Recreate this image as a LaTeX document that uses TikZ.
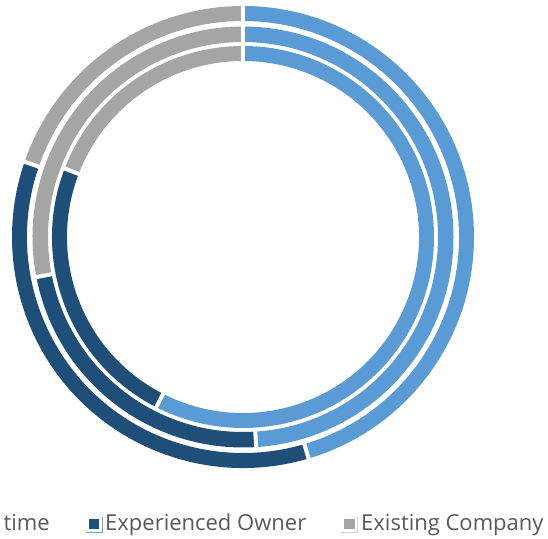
\documentclass[tikz,border=0pt]{standalone}
\usepackage{fontspec}
\setmainfont{Open Sans}
\usepackage{tikz}

\definecolor{firstblue}{HTML}{5B9BD5}
\definecolor{ownerblue}{HTML}{1F4E79}
\definecolor{companygray}{HTML}{A5A5A5}
\definecolor{legendgray}{HTML}{595959}

\tikzset{
  gapline/.style={draw=white,line width=4pt},
  legendlabel/.style={text=legendgray,font=\fontsize{22}{26}\selectfont,inner sep=0pt},
  legendkey/.style={inner sep=0pt,minimum size=10.5pt,anchor=south west},
  keyedge/.style={line width=0.8pt}
}

\begin{document}
\begin{tikzpicture}
        \useasboundingbox (-243pt,-301pt) rectangle (305pt,237pt);
        \coordinate (O) at (0,0);
        % outer ring
        \fill[firstblue] (90:231pt) arc[start angle=90,end angle=-73.5,radius=231pt]
          -- (-73.5:216pt) arc[start angle=-73.5,end angle=90,radius=216pt] -- cycle;
        \fill[ownerblue] (-73.5:231pt) arc[start angle=-73.5,end angle=-199,radius=231pt]
          -- (-199:216pt) arc[start angle=-199,end angle=-73.5,radius=216pt] -- cycle;
        \fill[companygray] (-199:231pt) arc[start angle=-199,end angle=-270,radius=231pt]
          -- (-270:216pt) arc[start angle=-270,end angle=-199,radius=216pt] -- cycle;
        % middle ring
        \fill[firstblue] (90:210.5pt) arc[start angle=90,end angle=-86.4,radius=210.5pt]
          -- (-86.4:195pt) arc[start angle=-86.4,end angle=90,radius=195pt] -- cycle;
        \fill[ownerblue] (-86.4:210.5pt) arc[start angle=-86.4,end angle=-169,radius=210.5pt]
          -- (-169:195pt) arc[start angle=-169,end angle=-86.4,radius=195pt] -- cycle;
        \fill[companygray] (-169:210.5pt) arc[start angle=-169,end angle=-270,radius=210.5pt]
          -- (-270:195pt) arc[start angle=-270,end angle=-169,radius=195pt] -- cycle;
        % inner ring
        \fill[firstblue] (90:191pt) arc[start angle=90,end angle=-117,radius=191pt]
          -- (-117:176pt) arc[start angle=-117,end angle=90,radius=176pt] -- cycle;
        \fill[ownerblue] (-117:191pt) arc[start angle=-117,end angle=-201,radius=191pt]
          -- (-201:176pt) arc[start angle=-201,end angle=-117,radius=176pt] -- cycle;
        \fill[companygray] (-201:191pt) arc[start angle=-201,end angle=-270,radius=191pt]
          -- (-270:176pt) arc[start angle=-270,end angle=-201,radius=176pt] -- cycle;
        % white gaps between the parts
        \draw[gapline] (90:212pt) -- (90:233pt);
        \draw[gapline] (90:193pt) -- (90:212pt);
        \draw[gapline] (90:174pt) -- (90:193pt);
        \draw[gapline] (-73.5:214pt) -- (-73.5:233pt);
        \draw[gapline] (-199:214pt) -- (-199:233pt);
        \draw[gapline] (-86.4:193pt) -- (-86.4:212pt);
        \draw[gapline] (-169:193pt) -- (-169:212pt);
        \draw[gapline] (-117:174pt) -- (-117:193pt);
        \draw[gapline] (-201:174pt) -- (-201:193pt);
        % legend
        \node[legendlabel,anchor=base east] (firstlabel) at (-193pt,-293pt) {First time};
        \node[legendkey,fill=firstblue] (firstkey) at ([xshift=-18.5pt,yshift=0.7pt]firstlabel.base west) {};
        \node[legendkey,fill=ownerblue] (ownerkey) at (-154.3pt,-292.3pt) {};
        \draw[keyedge,ownerblue!55] ([xshift=-3pt,yshift=-3.2pt]ownerkey.south west)
          -| ([xshift=2.4pt,yshift=1.5pt]ownerkey.north east);
        \node[legendlabel,anchor=base west] (ownerlabel) at (-138pt,-293pt) {Experienced Owner};
        \node[legendkey,fill=companygray] (companykey) at (101pt,-292.3pt) {};
        \draw[keyedge,companygray!55] ([xshift=-3pt,yshift=-3.2pt]companykey.south west)
          -| ([xshift=2.2pt,yshift=1.5pt]companykey.north east);
        \node[legendlabel,anchor=base west] (companylabel) at (118pt,-293pt) {Existing Company};
      \end{tikzpicture}
\end{document}
